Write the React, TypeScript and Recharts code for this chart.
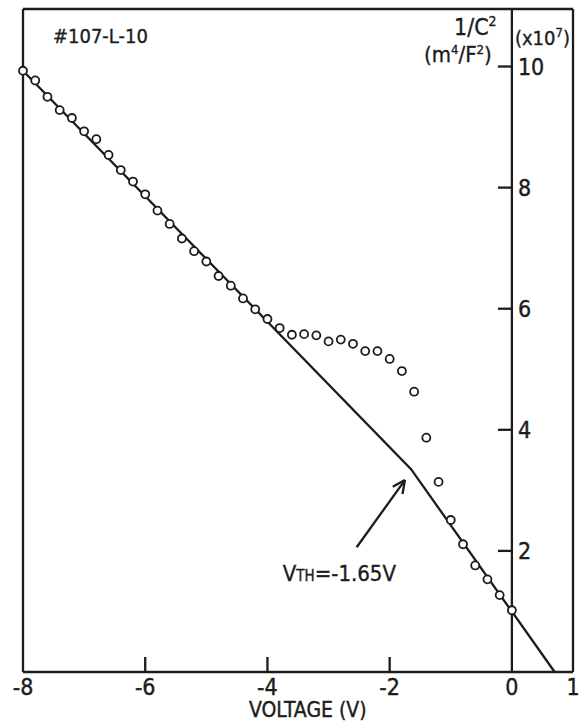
import React from 'react';
import { ScatterChart, Scatter, XAxis, YAxis, ReferenceLine, ReferenceDot } from 'recharts';

// measured 1/C^2 (x10^7 m^4/F^2) against bias voltage
const voltage = [
  -8, -7.8, -7.6, -7.4, -7.2, -7, -6.8, -6.6, -6.4, -6.2,
  -6, -5.8, -5.6, -5.4, -5.2, -5, -4.8, -4.6, -4.4, -4.2,
  -4, -3.8, -3.6, -3.4, -3.2, -3, -2.8, -2.6, -2.4, -2.2,
  -2, -1.8, -1.6, -1.4, -1.2, -1, -0.8, -0.6, -0.4, -0.2, 0,
];
const invC2 = [
  9.93, 9.77, 9.5, 9.28, 9.15, 8.93, 8.8, 8.54, 8.29, 8.1,
  7.89, 7.62, 7.4, 7.16, 6.95, 6.78, 6.54, 6.38, 6.17, 5.99,
  5.83, 5.68, 5.57, 5.58, 5.56, 5.46, 5.49, 5.42, 5.3, 5.3,
  5.17, 4.97, 4.63, 3.87, 3.14, 2.51, 2.11, 1.76, 1.53, 1.27, 1.02,
];

// two-segment fit, the break sits at the threshold voltage
const fitV = [-8, -1.65, 0.7];
const fitC = [9.93, 3.35, 0];

// arrow pointing at the break: shaft, then the two head strokes
const arrowShaft = [{ x: -2.54, y: 2.06 }, { x: -1.75, y: 3.17 }];
const arrowHeadA = [{ x: -1.75, y: 3.17 }, { x: -1.95, y: 3.06 }];
const arrowHeadB = [{ x: -1.75, y: 3.17 }, { x: -1.79, y: 2.94 }];

const xTicks = [-8, -6, -4, -2, 0, 1];
const yTicks = [2, 4, 6, 8, 10];

const points = voltage.map((v, i) => ({ x: v, y: invC2[i] }));
const fit = fitV.map((v, i) => ({ x: v, y: fitC[i] }));

const INK = '#1c1c1c';
const FONT = "'DejaVu Sans Condensed', 'DejaVu Sans', sans-serif";
const LW = 2.3;
const X_MIN = -8;
const X_MAX = 1;
const Y_MAX = 10.95;

const BottomTick = (props: any) => {
  const { x, y, payload } = props;
  const v = payload.value;
  const mark = v > X_MIN && v < 0;
  return (
    <g>
      {mark && <line x1={x} y1={y} x2={x} y2={y - 15} stroke={INK} strokeWidth={LW} />}
      <text x={x} y={y + 23} textAnchor="middle" fontFamily={FONT} fontSize={23} fill={INK}
        stroke={INK} strokeWidth={0.4}>
        {String(v)}
      </text>
    </g>
  );
};

const Circle = (props: any) => (
  <circle cx={props.cx} cy={props.cy} r={4} fill="#fff" stroke={INK} strokeWidth={1.8} />
);

const Label = ({ p, size, anchor, children }: any) => (
  <text x={p.cx} y={p.cy} textAnchor={anchor || 'start'} fontFamily={FONT} fontSize={size}
    fill={INK} stroke={INK} strokeWidth={0.35}>
    {children}
  </text>
);

const App: React.FC = () => {
  return (
    <div style={{ position: 'absolute', left: 0, top: 0, background: '#fff' }}>
      <ScatterChart width={587} height={722} margin={{ top: 9, right: 14, bottom: 0, left: 23 }}>
        <XAxis
          type="number"
          dataKey="x"
          domain={[X_MIN, X_MAX]}
          ticks={xTicks}
          interval={0}
          height={50}
          tickSize={0}
          tickMargin={0}
          tickLine={false}
          tick={<BottomTick />}
          axisLine={{ stroke: INK, strokeWidth: LW }}
        />
        <YAxis type="number" dataKey="y" domain={[0, Y_MAX]} hide />

        {/* frame: left, top and right edges */}
        <ReferenceLine x={X_MIN} stroke={INK} strokeWidth={LW} />
        <ReferenceLine x={X_MAX} stroke={INK} strokeWidth={LW} />
        <ReferenceLine y={Y_MAX} stroke={INK} strokeWidth={LW} />

        {/* the ordinate is drawn through V = 0 */}
        <ReferenceLine x={0} stroke={INK} strokeWidth={LW} />
        {yTicks.map((v) => (
          <ReferenceDot
            key={v}
            x={0}
            y={v}
            r={0}
            shape={(p: any) => (
              <g>
                <line x1={p.cx - 14} y1={p.cy} x2={p.cx} y2={p.cy} stroke={INK} strokeWidth={LW} />
                <text x={p.cx + 6} y={p.cy + 8} fontFamily={FONT} fontSize={23} fill={INK}
                  stroke={INK} strokeWidth={0.4}>
                  {v}
                </text>
              </g>
            )}
          />
        ))}

        <Scatter
          data={fit}
          line={{ stroke: INK, strokeWidth: LW }}
          lineType="joint"
          shape={() => <g />}
          isAnimationActive={false}
        />
        <Scatter data={points} shape={<Circle />} isAnimationActive={false} />

        <ReferenceLine segment={arrowShaft} stroke={INK} strokeWidth={LW} />
        <ReferenceLine segment={arrowHeadA} stroke={INK} strokeWidth={LW} />
        <ReferenceLine segment={arrowHeadB} stroke={INK} strokeWidth={LW} />

        <ReferenceDot
          x={-3.75}
          y={1.5}
          r={0}
          shape={(p: any) => (
            <Label p={p} size={22}>
              V<tspan fontSize={15}>TH</tspan>=-1.65V
            </Label>
          )}
        />

        <ReferenceDot x={-7.51} y={10.39} r={0}
          shape={(p: any) => <Label p={p} size={20}>#107-L-10</Label>} />
        <ReferenceDot
          x={-0.25}
          y={10.52}
          r={0}
          shape={(p: any) => (
            <Label p={p} size={23} anchor="end">
              1/C<tspan fontSize={14} dy={-9}>2</tspan>
            </Label>
          )}
        />
        <ReferenceDot
          x={-0.33}
          y={10.07}
          r={0}
          shape={(p: any) => (
            <Label p={p} size={22} anchor="end">
              (m<tspan fontSize={13} dy={-8}>4</tspan>
              <tspan dy={8}>/F</tspan>
              <tspan fontSize={13} dy={-8}>2</tspan>
              <tspan dy={8}>)</tspan>
            </Label>
          )}
        />
        <ReferenceDot
          x={0.05}
          y={10.36}
          r={0}
          shape={(p: any) => (
            <Label p={p} size={20}>
              (x10<tspan fontSize={13} dy={-8}>7</tspan>
              <tspan dy={8}>)</tspan>
            </Label>
          )}
        />
        <ReferenceDot
          x={-3.34}
          y={0}
          r={0}
          shape={(p: any) => (
            <text x={p.cx} y={p.cy + 45} textAnchor="middle" fontFamily={FONT} fontSize={21}
              fill={INK} stroke={INK} strokeWidth={0.4}>
              VOLTAGE (V)
            </text>
          )}
        />
      </ScatterChart>
    </div>
  );
};

export default App;
